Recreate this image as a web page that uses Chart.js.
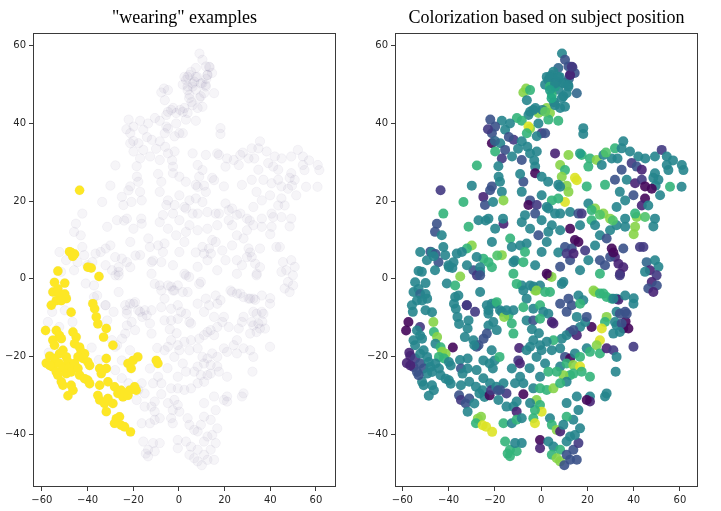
<!DOCTYPE html>
<html>
<head>
<meta charset="utf-8">
<script src="https://cdn.jsdelivr.net/npm/chart.js@4.4.0/dist/chart.umd.min.js"></script>
<style>
  html, body { margin: 0; padding: 0; background: #fff; overflow: hidden; }
  #wrap { position: relative; width: 721px; height: 511px; }
  .panel { position: absolute; top: 0; height: 511px; }
  #left { left: 0; width: 345px; }
  #right { left: 360px; width: 350px; }
</style>
</head>
<body>
<div id="wrap">
  <div class="panel" id="left"><canvas id="wearChart"></canvas></div>
  <div class="panel" id="right"><canvas id="posChart"></canvas></div>
</div>
<script>
// Tick labels
const xTicks = [-60, -40, -20, 0, 20, 40, 60];
const yTicks = [-40, -20, 0, 20, 40, 60];

// Points tagged "wearing" (yellow on the left), with subject position value (0..1)
const wearX = [
  -43.5, -47.9, -47.2, -45.7, -46.5, -53, -39.9, -38.4, -35, -54.5,
  -50, -55.2, -53, -52.3, -50, -49.3, -53.7, -55.9, -51.5, -47.2,
  -37.7, -36.9, -36.2, -35.5, -31.8, -33, -28.9, -58.4, -53.7, -52.3,
  -55.2, -51.5, -54.5, -46.4, -45, -45.7, -43.5, -42.8, -41.3, -44.2,
  -42, -39.9, -39.1, -56.6, -58.1, -54.5, -52.3, -50.8, -55.2, -52.3,
  -49.3, -48.6, -50.8, -47.9, -45.7, -53.7, -49.3, -47.2, -44.2, -43.5,
  -41.3, -39.9, -39.1, -51.5, -50.8, -47.2, -46.4, -48.6, -56.6, -53,
  -34.7, -31.8, -31.8, -34, -31.1, -34.7, -35.5, -34.7, -32.6, -31.1,
  -28.9, -31.8, -28.2, -26.7, -25.3, -24.5, -22.3, -21.6, -19.4, -18.7,
  -22.3, -20.9, -20.1, -18, -9.9, -9.2, -27.4, -26, -28.2, -25.3,
  -23.8, -21.2
];
const wearY = [
  22.8, 7, 6.8, 6.4, 5.8, 2, 3, 2.8, 0.6, -0.9,
  -1.1, -3.4, -2.6, -3.9, -3.9, -5.1, -5.6, -6.8, -5.6, -8.6,
  -6.4, -7.7, -9.8, -11.6, -12.8, -15, -17.1, -13.3, -13.3, -14.6,
  -15.8, -15.4, -17.1, -13.7, -15, -16.7, -17.6, -18.8, -19.3, -20.1,
  -20.5, -21.4, -22.3, -19.9, -21.7, -20.5, -19.3, -18.4, -22.7, -21.8,
  -20.1, -21.4, -23.1, -22.7, -21.8, -24, -24.4, -24, -23.1, -24.8,
  -25.7, -26.1, -27, -26.5, -27.4, -27.4, -28.7, -30.1, -22.3, -24.8,
  -23.1, -23.1, -20.5, -24.4, -26.5, -27.4, -30, -31.2, -32.1, -30.8,
  -32.1, -34.2, -27.8, -29.5, -28.7, -30.4, -30, -28.7, -27.8, -28.7,
  -21.8, -23.1, -21, -20.1, -21, -21.8, -36, -35.5, -37.2, -37.7,
  -38.1, -39.4
];
const wearC = [
  .17, .25, .45, .25, .45, .45, .45, .45, .82, .45,
  .45, .45, .45, .33, .45, .45, .45, .45, .45, .45,
  .45, .45, .45, .45, .45, .45, .45, .02, .45, .45,
  .45, .45, .45, .65, .82, .45, .65, .82, .82, .65,
  .65, .45, .45, .1, .1, .17, .45, .45, .17, .25,
  .45, .45, .25, .45, .45, .25, .45, .45, .45, .45,
  .45, .45, .45, .45, .45, .45, .45, .45, .1, .25,
  .25, .45, .45, .45, .45, .45, .25, .17, .25, .25,
  .45, .45, .45, .45, .45, .45, .02, .17, .45, .25,
  .45, .45, .45, .65, .17, .1, .82, .82, .65, .95,
  .95, .95
];

// All other points
const otherX = [
  // top peak
  9, 10.3, 11.8, 13.5, 7.4, 12.5, 14.5, 4.6, 2.4, 3.1,
  6.7, 10.3, 1.7, 3.8, 7.4, 11.8, 4.6, 9.6, 15.4, -7.7,
  -6.5, -4.8, -6.2, 8.2, 2.4, 3.8, 7.4, 3.1, -4.8, -1.2,
  -2.5, 0.5, 5.5, 8, 6, 12,
  5.3, 3.8, 7.4, 6, 9.6, 11.7, 3.8, 11, 8.9, 6,
  10.3, 12.5, 13.2, 1.7, -3.4, -5.5, 4.5, -4.8,
  // upper left arm
  -10.5, -8.4, -5.5, -6.2, -1.2, 0.2, -1.9, -17, -19.9, -21.3,
  -15.6, -21.3, -17.7, -11.9, -8.4, -19.9, -15.6, -12.6, -17, -8.4,
  -4.8, -1.9, -2.6, -2.6, 0.2, -18.4, -21.3, -7.7, -9.1, -17.8,
  1.7, 18.2, 18.2, -22, -23, -20, -14, -10, -6, -13.5,
  -18.5, -3,
  // upper right band
  6, 11.8, 17.5, 21.1, 24, 26.9, 30.5, 8.2, 10.3, 14.6,
  8.9, 20.4, 26.2, 31.9, 27.6, 19.7, 7.4, 35.5, 31.9, 34.8,
  38.4, 42, 49.2, 52.1, 54.3, 60.8, 61.5, 54.3, 49.2, 48.5,
  55, 50.7, 49.5, 39.1, 41.3, 43.5, 34.8, 37, 40.6, 43.5,
  44.9, 47.8, 55.7, 60.7, 51.4, 44.9, 39.9, 43.5, 46.3, 36.3,
  32.6, 34, 11, 11.8, 10.3, 7.4, 4.6, 3, 8.2, 0.2,
  15.4, 16.8, 28, 33, 45, 57,
  // y 9..19 right
  3.1, 6, 12.5, 16.1, 17.5, 20.4, 23.3, 21.8, 26.9, 29.8,
  36.3, 40.6, 41.3, 44.9, 49.2, 12.5, 16.8, 21.8, 23.3, 32.6,
  36.3, 4.6, 2.4, 8.2, 14.6, 29.8, 40.6, 40, 2.4, 8.2,
  25.4, 31, 48.5,
  // y -4..9 right
  10.3, 13.2, 16.1, 19, 23.3, 25.4, 28.3, 30.5, 31.9, 33.4,
  35.5, 29.8, 34.1, 25.4, 27.6, 20.4, 16.8, 25.4, 8.2, 12.5,
  9.6, 3.1, 4.5, 44.2, 45.6, 49.2, 50.7, 47, 44.9, 49.9,
  47.8, 50, 46.3, 48.5, 7.4, 11, 14, 31.2, 35.5, 34,
  42.7,
  // y -21..0 right
  23.3, 26.9, 30.5, 32.6, 33.4, 36.3, 39.9, 16.1, 11.8, 8.2,
  18.2, 13.2, 3.8, 28.3, 27.6, 26.2, 32.6, 36.3, 35.5, 37.7,
  36.5, 32.6, 21.8, 19, 15.4, 12.5, 5.3, 3.1, 8.9, 11,
  19.7, 16.8, 15.4, 11, 8.9, 5.3, 2.4, 8.2, 10.3, 12.5,
  14.6, 16.8, 19.7, 21.1, 22.6, 25.4, 28.3, 31.2, 34, 37,
  31.9, 34.8, 34, 31.2, 25.4, 24, 25.4, 28.3, 31.2, 32.6,
  39.9, 13.9, 40, 16.8,
  // middle left
  -16.3, -16.5, -13.4, -19.9, -21.3, -22.8, -27.1, -24, -31.4, -30,
  -32.1, -34.3, -36.5, -25, -22.1, -17, -16.3, -24.3, -20.8, -8.4,
  -4.8, -5.5, -1.9, -7, -2.6, -8.4, -4.8, 0.2, 3.1, -33.6,
  -30, -27.8, -42.3, -45.1, -45.9, -43, -52.3, -42.3, -41.5, -37.9,
  -44.4, -49.4, -45.9, -51.6, -40.1, -12.7, -9.1, -6.3, -12, -7,
  -12, -8.4, -2.6, -0.5, 2.4, 0.2, -2.6, -1.2, -26.4, -29.3,
  -27.8, -32.1, -25, -22.8, -26.4, -21.3, -17, -19, -11.3, -7.7,
  -27.9, -3.4, -26.4,
  // centre and lower left
  -10.6, -7.7, -4.8, -2, 1.7, -6.3, -7.7, -3.4, -0.5, 0.9,
  -6.3, -3.4, -0.5, 4.6, -19.9, -17, -22.8, -14.1, -28.6, -32.1,
  -31.4, -22.8, -26.4, -23.5, -21.4, -22.8, -19.2, -17.8, -16, -20.7,
  -19.2, -15, -12, -12.7, -12, -23.5, -24.9, -27.9, -21.4, -25,
  -12.7, -9.5, -9.1, -7.7, -11.3, -7.7, -10.6, -12, -15, -10.6,
  -15, -16.3, -17.8, -18.5, -25, -22.1, -16.3, -12.7, -10.6, -8.4,
  -15.6, -13.5, -13.5, -10.6, -11.3, -8.4, -14.5, -3.4, -4.8, -6.3,
  -0.5, 0.2, 4.6, 1.7, -2, 3.1, -0.5, -3.4, -0.5, 2.4,
  5.3, -2, -0.5, 0.2, -2.7, -4.8, -3.4, -2.7, -5, -4,
  -1, -37.2, -32.2, -29.3, -27.1, -35.1, -27.9, -57.4, -52.4, -46.6,
  -38.2, -57, -55.5, -50, -40.8, -35.8, -37.2,
  // lower right
  8.2, 11, 13.9, 16.8, 17.5, 12.5, 9.6, 13.9, 21.1, 6.7,
  11, 8.2, 15.4, 21.1, 21.1, 28.3, 27.6, 19.7, 11, 32.2,
  3.8, 4.6, 6.7, 8.2, -0.5, -0.5, 3.1, 5.3, 8.2, 4.6,
  6.7, 8.2, 11, 12.5, 15.4, 13.9, 16.1, 11, 12.5, 14.6,
  16.8, 13.9, 11, 16.1, 9.6, 10
];
const otherY = [
  // top peak
  58, 56.4, 54.7, 54.5, 54.3, 52.5, 53, 52.5, 52, 51.2,
  50.8, 50.4, 50, 49.5, 48.7, 49.5, 47.4, 47, 47.8, 48,
  49, 48.6, 46, 44, 44, 42.7, 40.7, 41, 43, 42.7,
  44, 43.5, 45.5, 52, 49.5, 51.5,
  53.3, 52, 52, 50.3, 50.3, 49.9, 48.6, 47.8, 46.5, 44.7,
  44.3, 52.5, 54.6, 43, 43.5, 42.2, 46.5, 38.7,
  // upper left arm
  41.4, 40.7, 39.2, 37.5, 40, 37.5, 36.7, 40.7, 39.2, 37.5,
  38.4, 34.9, 34.9, 35.8, 35.4, 32.8, 33.2, 31.5, 31, 30.6,
  32.3, 32.8, 28.9, 27.2, 26.3, 26.3, 23.8, 25, 27, 25,
  37.5, 38.8, 37.3, 41, 38.5, 35.5, 36.5, 33.5, 34, 40,
  29, 30.5,
  // upper right band
  32.3, 31.9, 31.9, 31, 30.6, 31.9, 31, 29.3, 28, 26,
  26.3, 28.9, 29.3, 25.5, 24.2, 23.8, 24.2, 35.4, 33.6, 33.6,
  32.8, 31.5, 31.5, 33.2, 31.5, 29.3, 28, 29.3, 27.2, 26,
  28, 25.5, 24, 29.8, 28.9, 28.1, 28.1, 25.5, 24.6, 25.5,
  23.8, 23.2, 23.7, 23.7, 21.5, 20.7, 21.5, 18.9, 18.9, 20.2,
  18.5, 22.4, 24, 22.4, 19.8, 20.7, 20.2, 25, 23.7, 21.5,
  25.4, 32.3, 32.5, 31, 31, 30.5,
  // y 9..19 right
  18.1, 16.8, 17.2, 16.8, 16.8, 19.4, 18.1, 17.7, 16.8, 15.5,
  15.5, 13.4, 15.9, 15.9, 15.5, 12.9, 13.8, 15.1, 13.8, 13.8,
  13.4, 13.8, 9.5, 12.5, 10, 12.5, 16.8, 11.5, 18.5, 16.8,
  16.5, 15, 13.5,
  // y -4..9 right
  8.2, 7.8, 9.5, 7.3, 8.6, 11.2, 10.4, 7.8, 5.6, 3.9,
  7.8, 5.6, 1.3, 4.8, 3.5, 4.8, 2.2, 1.3, 3.1, 4.8,
  -0.8, 0.9, 0.5, 8.2, 4.3, 4.8, 3.1, 2.2, 1.8, 0.9,
  -0.8, -1.7, -2.5, -3.4, 6.8, 6.5, 6.5, 6.8, 3, 0.9,
  8.2,
  // y -21..0 right
  -3.4, -3.8, -5.1, -5.1, -5.4, -4.3, -6.4, -4.3, -5.1, -6.4,
  -5.5, -6.8, -3.4, -9.8, -11.1, -12.8, -8.5, -8.5, -12.8, -12.8,
  -11, -12, -12.4, -11.1, -9.8, -13.7, -11.5, -9, -1.3, -8.5,
  -9.8, -12.4, -14.5, -14.5, -15.4, -15.8, -16.2, -17.9, -20.1, -20.5,
  -19.2, -20.1, -17.9, -18.8, -3, -3.8, -4.7, -5.1, -9, -9,
  -11.1, -11.5, -13.7, -14.1, -15.8, -17.1, -19.2, -17.9, -18.4, -20.1,
  -17.5, -13.2, -5, -6.4,
  // middle left
  14.2, 15.5, 10.4, 12.9, 9.5, 15.5, 15.1, 15, 13.4, 8.6,
  7.8, 6.9, 6.5, 21.1, 22.8, 22.4, 20.2, 19, 19.8, 22.4,
  20.2, 19, 19, 16.4, 16.8, 14.6, 12.9, 15.1, 12.1, 19.8,
  24, 29.2, 16.8, 14.2, 12.1, 11.2, 6.9, 8.2, 6.1, 4.3,
  4.3, 4.8, 2.2, 1.8, 3.5, 8.2, 8.6, 9.1, 4.3, 6.9,
  1.3, -1.7, -3, -1.7, 1.3, 6.9, 3.5, 11.2, 1.8, 2.2,
  0.9, 3.5, 5.2, 4.3, 3, 3, 6.1, 6, 4.7, 4.3,
  5.6, -2, 0.9,
  // centre and lower left
  -1.3, -3, -1.7, -3, -3.4, -5.1, -7.3, -7.7, -6.8, -8.5,
  -10.7, -10.7, -10.3, -11.1, -6.4, -8.5, -8.1, -9.4, -8.5, -6.8,
  -10.7, -12, -3.4, -6.8, -6.4, -9, -6, -8.1, -9.8, -11.1,
  -13.2, -8.1, -8.1, -11.5, -14.1, -14.1, -15.4, -17.5, -18.4, -21,
  -23.1, -17.8, -25.2, -26.9, -26.9, -29.7, -31.6, -32.9, -32.9, -34.2,
  -29.5, -26.9, -28.6, -31.2, -25.6, -26.9, -37.2, -37.2, -36.3, -35.9,
  -41.9, -44, -45.7, -44.4, -42.3, -42.3, -45, -15.8, -17.5, -18.4,
  -17.1, -18.4, -18.4, -21.8, -20.1, -23.9, -25.2, -28.2, -28.2, -28.6,
  -28.2, -31.2, -32.5, -34.2, -33.8, -32, -35.9, -37.2, -23, -13,
  -14, -4.7, -6.8, -15.8, -17.1, -20.9, -23.5, -11.1, -12.4, -11.1,
  -17.7, -19, -8.5, -8.1, -1.2, -4.3, -1.7,
  // lower right
  -22.6, -21.8, -22.2, -22.6, -23.9, -24.8, -24.8, -24.4, -25.2, -23.9,
  -26.5, -26.9, -30.3, -30.3, -31.6, -29.5, -30.3, -31.2, -32, -23.9,
  -35.9, -37.6, -38.9, -39.3, -41.5, -43.6, -41.9, -43.2, -44, -45.3,
  -46.2, -47, -45.3, -46.6, -46.6, -44, -42.3, -41.9, -40.6, -40.2,
  -38.5, -36.3, -35.5, -33.8, -37.6, -48
];
const otherC = [
  // top peak
  .45, .25, .25, .17, .33, .17, .25, .45, .45, .45,
  .45, .45, .45, .65, .45, .45, .65, .45, .33, .82,
  .82, .65, .45, .45, .82, .82, .65, .65, .45, .82,
  .45, .45, .45, .45, .55, .33,
  .45, .45, .45, .45, .45, .45, .55, .45, .45, .45,
  .45, .1, .17, .75, .45, .45, .6, .82,
  // upper left arm
  .65, .65, .95, .65, .45, .17, .45, .45, .25, .25,
  .45, .02, .45, .17, .45, .65, .25, .45, .17, .25,
  .45, .45, .45, .02, .45, .45, .25, .25, .45, .45,
  .25, .45, .45, .25, .17, .33, .25, .45, .45, .45,
  .45, .45,
  // upper right band
  .1, .82, .65, .65, .82, .45, .45, .82, .65, .95,
  .82, .65, .45, .25, .65, .65, .45, .45, .65, .45,
  .45, .45, .45, .17, .45, .45, .45, .45, .45, .45,
  .45, .45, .45, .17, .25, .1, .25, .45, .1, .17,
  .02, .02, .65, .45, .45, .02, .25, .1, .45, .45,
  .45, .45, .82, .82, .95, .65, .65, .45, .45, .45,
  .95, .55, .72, .45, .45, .45,
  // y 9..19 right
  .45, .45, .45, .25, .17, .45, .82, .65, .82, .82,
  .45, .82, .82, .72, .45, .02, .45, .65, .45, .45,
  .45, .45, .45, .45, .02, .45, .65, .82, .45, .45,
  .72, .72, .45,
  // y -4..9 right
  .25, .25, .02, .17, .45, .45, .25, .02, .1, .1,
  .25, .25, .1, .25, .25, .45, .45, .65, .25, .25,
  .45, .02, .82, .17, .33, .45, .45, .1, .45, .17,
  .1, .25, .25, .1, .45, .17, .1, .02, .1, .17,
  .17,
  // y -21..0 right
  .82, .65, .65, .45, .1, .45, .45, .45, .25, .25,
  .45, .25, .65, .82, .65, .95, .45, .25, .02, .02,
  .02, .45, .02, .45, .45, .17, .1, .45, .45, .25,
  .25, .45, .1, .45, .45, .65, .45, .45, .25, .02,
  .45, .65, .45, .65, .82, .65, .65, .45, .25, .25,
  .45, .25, .45, .45, .95, .82, .65, .1, .17, .45,
  .17, .25, .45, .65,
  // middle left
  .1, .45, .65, .45, .45, .45, .45, .45, .65, .82,
  .65, .45, .45, .1, .25, .45, .82, .25, .45, .45,
  .25, .02, .17, .45, .25, .45, .45, .45, .45, .65,
  .45, .65, .65, .25, .25, .45, .45, .45, .45, .45,
  .25, .45, .45, .45, .45, .45, .45, .45, .45, .65,
  .65, .45, .82, .45, .02, .45, .45, .25, .45, .25,
  .17, .45, .65, .65, .45, .65, .82, .72, .45, .65,
  .45, .45, .25,
  // centre and lower left
  .65, .45, .45, .82, .65, .45, .65, .45, .65, .45,
  .45, .25, .65, .1, .45, .45, .45, .65, .17, .17,
  .45, .45, .45, .45, .45, .45, .65, .45, .82, .45,
  .45, .45, .45, .65, .65, .25, .25, .25, .45, .45,
  .45, .1, .45, .45, .45, .02, .45, .45, .45, .1,
  .17, .45, .25, .45, .45, .45, .65, .45, .65, .45,
  .65, .65, .65, .65, .45, .45, .65, .45, .45, .45,
  .45, .45, .45, .45, .45, .65, .45, .45, .65, .65,
  .82, .82, .65, .95, .65, .45, .65, .95, .45, .45,
  .45, .45, .17, .45, .25, .45, .45, .02, .17, .82,
  .02, .1, .45, .45, .45, .45, .65,
  // lower right
  .45, .65, .82, .95, .65, .65, .82, .65, .65, .65,
  .45, .65, .45, .45, .1, .45, .45, .02, .45, .45,
  .45, .65, .82, .1, .02, .1, .45, .45, .65, .65,
  .82, .82, .25, .25, .25, .25, .17, .45, .45, .45,
  .45, .45, .65, .45, .45, .25
];

// viridis colormap
const viridisStops = ['#440154', '#482475', '#414487', '#355f8d', '#2a788e', '#21918c',
                      '#22a884', '#44bf70', '#7ad151', '#bddf26', '#fde725'];
function hexRgb(h) {
  return [parseInt(h.slice(1, 3), 16), parseInt(h.slice(3, 5), 16), parseInt(h.slice(5, 7), 16)];
}
function viridis(v, alpha) {
  const t = Math.max(0, Math.min(1, v)) * (viridisStops.length - 1);
  const i = Math.min(Math.floor(t), viridisStops.length - 2);
  const f = t - i;
  const a = hexRgb(viridisStops[i]), b = hexRgb(viridisStops[i + 1]);
  const c = a.map((ch, k) => Math.round(ch + (b[k] - ch) * f));
  return `rgba(${c[0]}, ${c[1]}, ${c[2]}, ${alpha})`;
}

const toPoints = (xs, ys) => xs.map((x, i) => ({ x: x, y: ys[i] }));
const wearPts = toPoints(wearX, wearY);
const otherPts = toPoints(otherX, otherY);
const allPts = otherPts.concat(wearPts);
const allC = otherC.concat(wearC);

const fmt = v => (v < 0 ? '\u2212' + Math.abs(v) : String(v));

// black frame round the plot area
const framePlugin = {
  id: 'frame',
  afterDraw(chart) {
    const { ctx, chartArea: a } = chart;
    ctx.save();
    ctx.strokeStyle = '#3a3a3a';
    ctx.lineWidth = 1;
    ctx.strokeRect(Math.round(a.left) + 0.5, Math.round(a.top) + 0.5,
                   Math.round(a.right - a.left) - 1, Math.round(a.bottom - a.top) - 1);
    ctx.restore();
  }
};

function makeScales(xMin, xMax, yWidth) {
  const tickFont = { family: 'DejaVu Sans', size: 10 };
  const grid = { drawOnChartArea: false, drawTicks: true, tickLength: 4, color: '#3a3a3a', lineWidth: 1 };
  return {
    x: {
      type: 'linear', min: xMin, max: xMax,
      grid: grid, border: { display: false },
      ticks: { color: '#262626', font: tickFont, padding: 3, maxRotation: 0, callback: v => fmt(v) },
      afterBuildTicks: s => { s.ticks = xTicks.map(v => ({ value: v })); },
      afterFit: s => { s.height = 24; }
    },
    y: {
      type: 'linear', min: -53.6, max: 63.3,
      grid: grid, border: { display: false },
      ticks: { color: '#262626', font: tickFont, padding: 3, callback: v => fmt(v) },
      afterBuildTicks: s => { s.ticks = yTicks.map(v => ({ value: v })); },
      afterFit: s => { s.width = yWidth; }
    }
  };
}

function titleOpts(text) {
  return {
    display: true, text: text, fullSize: false, color: '#000',
    font: { family: 'Liberation Serif', size: 18, weight: 'normal' },
    padding: { top: 7, bottom: 4.4 }
  };
}

Chart.defaults.animation = false;

new Chart(document.getElementById('wearChart'), {
  type: 'scatter',
  data: {
    datasets: [
      {
        label: 'wearing',
        data: wearPts,
        backgroundColor: '#fde725',
        borderWidth: 0,
        pointRadius: 4.7
      },
      {
        label: 'all',
        data: allPts,
        backgroundColor: 'rgba(40, 30, 90, 0.045)',
        borderColor: 'rgba(40, 30, 90, 0.04)',
        borderWidth: 1,
        pointRadius: 4.7
      }
    ]
  },
  options: {
    responsive: true,
    maintainAspectRatio: false,
    events: [],
    layout: { padding: { left: 0, right: 9, top: 0, bottom: 0 } },
    plugins: { legend: { display: false }, tooltip: { enabled: false }, title: titleOpts('"wearing" examples') },
    scales: makeScales(-63.9, 68.8, 33)
  },
  plugins: [framePlugin]
});

new Chart(document.getElementById('posChart'), {
  type: 'scatter',
  data: {
    datasets: [
      {
        label: 'subject position',
        data: allPts,
        backgroundColor: allC.map(v => viridis(v, 0.9)),
        borderWidth: 0,
        pointRadius: 5
      }
    ]
  },
  options: {
    responsive: true,
    maintainAspectRatio: false,
    events: [],
    layout: { padding: { left: 0, right: 12, top: 0, bottom: 0 } },
    plugins: { legend: { display: false }, tooltip: { enabled: false }, title: titleOpts('Colorization based on subject position') },
    scales: makeScales(-63.2, 67.8, 35)
  },
  plugins: [framePlugin]
});
</script>
</body>
</html>
